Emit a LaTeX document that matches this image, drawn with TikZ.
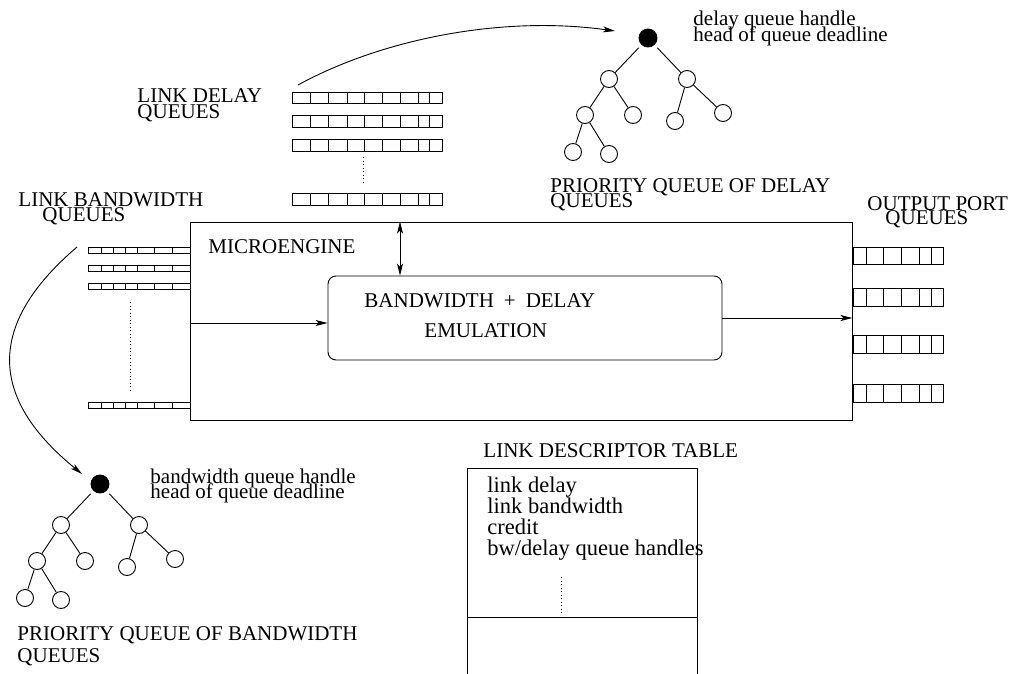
\documentclass[tikz,border=0pt]{standalone}
\usepackage{fontspec}
\setmainfont{Liberation Serif}
\usetikzlibrary{arrows.meta}
\newcommand\qrow[5]{%
  \draw (#1,#3) rectangle (#2,#4);
  \foreach \xx in {#5} {\draw (\xx,#3) -- (\xx,#4);}}
\newcommand\heaptree[3]{%
  \begin{scope}[shift={(#2,#3)}]
    \node[hroot] (#1r) at (0,0) {};
    \node[hnode] (#1a) at (-39,41) {};
    \node[hnode] (#1b) at (39,41) {};
    \node[hnode] (#1c) at (-63,77) {};
    \node[hnode] (#1d) at (-15,77) {};
    \node[hnode] (#1e) at (27,83) {};
    \node[hnode] (#1f) at (75,75) {};
    \node[hnode] (#1g) at (-75,114) {};
    \node[hnode] (#1h) at (-39,116) {};
  \end{scope}
  \draw[shorten <=4pt] (#1r) -- (#1a);
  \draw[shorten <=4pt] (#1r) -- (#1b);
  \draw (#1a) -- (#1c);
  \draw (#1a) -- (#1d);
  \draw (#1b) -- (#1e);
  \draw (#1b) -- (#1f);
  \draw (#1c) -- (#1g);
  \draw (#1c) -- (#1h);}
\begin{document}
\begin{tikzpicture}[x=1pt,y=-1pt,line width=0.9pt,
  arr/.style={-{Stealth[length=12pt,width=6pt,inset=3pt]}},
  darr/.style={{Stealth[length=12pt,width=6pt,inset=3pt]}-{Stealth[length=12pt,width=6pt,inset=3pt]}},
  lbl/.style={font=\fontsize{21}{16}\selectfont, inner sep=0pt, anchor=base west},
  tlbl/.style={font=\fontsize{22.5}{22}\selectfont, inner sep=0pt, anchor=base west},
  hnode/.style={circle, draw, minimum size=17pt, inner sep=0pt},
  hroot/.style={circle, draw, fill=black, minimum size=18pt, inner sep=0pt},
  dotline/.style={dash pattern=on 0.9pt off 2.6pt},
  box/.style={draw, inner sep=0pt},
]
\useasboundingbox (0,0) rectangle (1014,674);

% main microengine box and emulation box
\node[box, minimum width=662pt, minimum height=198pt] (me) at (521,321) {};
\node[box, rounded corners=8pt, minimum width=394pt, minimum height=84pt] (emu) at (525,318) {};
\node[lbl] (melbl) at (208,253) {MICROENGINE};
\node[lbl] (emu1) at (364,307) {BANDWIDTH\hspace{10pt}+\hspace{10pt}DELAY};
\node[lbl] (emu2) at (424,337) {EMULATION};

% link delay queues
\node[lbl] (ldq1) at (137,103) {LINK DELAY};
\node[lbl] (ldq2) at (137,118) {QUEUES};
\qrow{292}{442}{92}{103}{310,328,347,364,382,400,418,429}
\qrow{292}{442}{115}{127}{310,328,347,364,382,400,418,429}
\qrow{292}{442}{139}{151}{310,328,347,364,382,400,418,429}
\qrow{292}{442}{193}{205}{310,328,347,364,382,400,418,429}
\draw[dotline] (363,157) -- (363,184);

% link bandwidth queues
\node[lbl] (lbq1) at (18,206) {LINK BANDWIDTH};
\node[lbl] (lbq2) at (42,221) {QUEUES};
\qrow{88}{190}{247}{253}{101,113,125,137,154,172}
\qrow{88}{190}{265}{271}{101,113,125,137,154,172}
\qrow{88}{190}{283}{289}{101,113,125,137,154,172}
\qrow{88}{190}{402}{408}{101,113,125,137,154,172}
\draw[dotline] (130,302) -- (130,390);

% output port queues
\node[lbl] (opq1) at (867,210) {OUTPUT PORT};
\node[lbl] (opq2) at (885,224) {QUEUES};
\qrow{853}{943}{247}{264}{866,883,901,919,931}
\qrow{853}{943}{288}{306}{866,883,901,919,931}
\qrow{853}{943}{335}{353}{866,883,901,919,931}
\qrow{853}{943}{384}{402}{866,883,901,919,931}

% connectors inside microengine
\coordinate (inL) at (190,323);
\draw[arr] (inL) -- (emu.west |- inL);
\draw[arr] (emu.east) -- (me.east |- emu.east);
\draw[darr] (me.north -| 400,0) -- (emu.north -| 400,0);

% delay priority queue
\heaptree{dt}{648}{38}
\node[lbl] (dh1) at (693,26) {delay queue handle};
\node[lbl] (dh2) at (693,42) {head of queue deadline};
\node[lbl] (pqd1) at (550,192) {PRIORITY QUEUE OF DELAY};
\node[lbl] (pqd2) at (550,207) {QUEUES};
\coordinate (darcS) at (298,85);
\coordinate (darcE) at (615,31);
\draw[arr] (darcS) .. controls (380,40) and (500,15) .. (darcE);

% bandwidth priority queue
\heaptree{bt}{100}{484}
\node[lbl] (bh1) at (150,483) {bandwidth queue handle};
\node[lbl] (bh2) at (150,498) {head of queue deadline};
\node[lbl] (pqb1) at (17,640) {PRIORITY QUEUE OF BANDWIDTH};
\node[lbl] (pqb2) at (17,662) {QUEUES};
\coordinate (barcS) at (77,247);
\coordinate (barcE) at (82,474);
\draw[arr] (barcS) .. controls (-20,330) and (-5,403) .. (barcE);

% link descriptor table
\node[lbl] (ldt) at (483,457) {LINK DESCRIPTOR TABLE};
\draw (467,674) -- (467,468) -- (697,468) -- (697,674);
\draw (467,617) -- (697,617);
\node[tlbl] (t1) at (487,492) {link delay};
\node[tlbl] (t2) at (487,513) {link bandwidth};
\node[tlbl] (t3) at (487,534) {credit};
\node[tlbl] (t4) at (487,555) {bw/delay queue handles};
\draw[dotline] (561,577) -- (561,615);
\end{tikzpicture}
\end{document}
